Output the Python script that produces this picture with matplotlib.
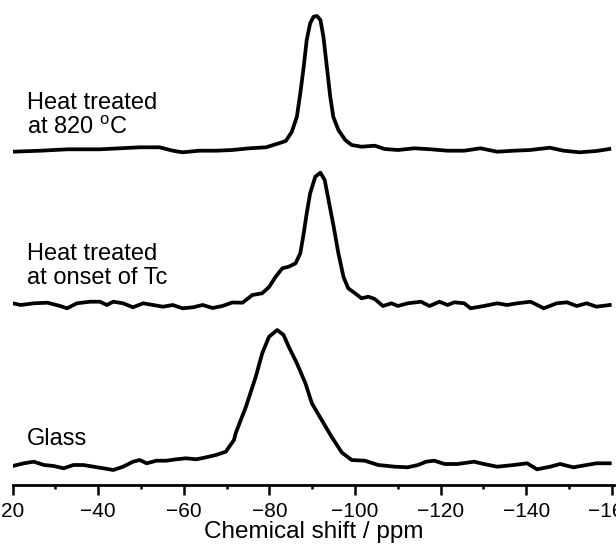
import numpy as np
import matplotlib
matplotlib.use("Agg")
import matplotlib.pyplot as plt

plt.rcParams['font.family'] = ['Liberation Sans', 'DejaVu Sans']
plt.rcParams['mathtext.fontset'] = 'custom'
plt.rcParams['mathtext.rm'] = 'Liberation Sans'

# spectra: chemical shift (ppm) and intensity (a.u., baseline ~0)
ppm_820 = [-20.0, -26.5, -32.8, -40.4, -45.1, -49.7, -54.3, -57.4, -59.7, -63.6,
           -67.6, -71.3, -75.3, -79.2, -82.2, -83.8, -85.2, -86.4, -87.2, -88.0,
           -88.7, -89.5, -90.3, -91.1, -91.9, -92.6, -93.4, -94.2, -94.9, -96.1,
           -97.7, -99.2, -101.5, -104.6, -106.9, -110.0, -113.9, -117.7, -121.6, -125.5,
           -129.3, -133.2, -137.1, -140.9, -145.5, -148.7, -152.5, -156.4, -159.4]
int_820 = [-1.7, -0.7, 0.7, 0.7, 1.7, 2.7, 2.7, -0.7, -2.3, -0.7,
           -0.7, 0.0, 1.7, 2.7, 6.7, 9.0, 18.0, 33.3, 56.7, 83.3,
           110.0, 126.7, 133.3, 134.0, 130.0, 113.3, 83.3, 53.3, 33.3, 20.0,
           10.0, 5.0, 3.3, 4.3, 1.0, 0.0, 1.7, 0.7, -0.7, -0.7,
           1.7, -1.7, -0.7, 0.0, 2.3, -0.7, -2.3, -1.0, 1.0]

ppm_tc = [-20.0, -21.9, -24.9, -28.1, -31.1, -32.7, -35.0, -38.1, -40.4, -42.0,
          -43.5, -45.8, -48.1, -50.5, -52.8, -55.1, -57.4, -59.7, -62.1, -64.4,
          -66.7, -69.0, -71.3, -73.7, -76.0, -78.3, -79.9, -81.4, -83.0, -84.5,
          -86.1, -87.2, -88.0, -88.7, -89.5, -90.7, -91.9, -92.9, -93.8, -95.0,
          -96.1, -97.3, -98.4, -100.0, -101.5, -103.1, -104.6, -106.5, -108.5, -110.0,
          -112.3, -115.4, -117.4, -119.7, -121.6, -123.2, -125.5, -127.0, -130.1, -133.2,
          -135.5, -137.9, -141.0, -144.1, -147.1, -149.5, -151.8, -154.1, -156.4, -159.5]
int_tc = [0.7, -1.0, 0.7, 1.3, -2.0, -4.3, 0.7, 2.3, 2.3, -1.0,
          2.3, 0.7, -3.3, 0.7, -1.0, -2.7, -1.0, -4.3, -3.3, -1.0,
          -4.0, -2.0, 1.5, 1.3, 9.0, 10.7, 17.0, 27.0, 35.7, 37.3,
          40.7, 50.7, 70.7, 90.7, 110.7, 127.3, 131.3, 124.0, 104.0, 77.3,
          50.7, 27.0, 15.7, 10.7, 5.7, 7.3, 5.0, -2.0, 0.7, -2.0,
          0.7, 2.3, -2.0, 2.3, -1.0, 1.7, 0.7, -4.3, -2.0, 0.7,
          -1.0, 0.7, 2.3, -4.3, 0.7, 1.7, -2.0, 0.7, -2.7, -1.0]

ppm_glass = [-20.0, -22.6, -24.9, -27.3, -29.6, -31.9, -34.2, -36.5, -38.9, -41.2,
             -43.5, -45.8, -48.1, -49.7, -51.3, -53.6, -55.9, -58.2, -60.5, -62.9,
             -65.2, -67.5, -69.8, -70.6, -71.7, -72.1, -74.5, -76.8, -78.3, -79.9,
             -81.8, -83.3, -84.5, -86.4, -88.4, -89.9, -92.2, -94.5, -96.9, -99.2,
             -102.3, -105.4, -109.3, -112.3, -114.7, -116.6, -118.5, -120.9, -123.9, -127.8,
             -130.1, -133.2, -137.1, -140.2, -142.5, -145.6, -147.9, -151.0, -154.1, -156.4,
             -159.5]
int_glass = [-1.0, 1.7, 3.3, 0.0, -1.0, -3.3, 0.0, 0.0, -1.7, -3.3,
             -5.0, -1.7, 3.3, 5.0, 1.7, 4.3, 4.3, 5.7, 6.7, 5.7,
             7.7, 10.0, 13.3, 18.3, 25.0, 31.7, 58.3, 88.3, 111.7, 128.3,
             135.0, 130.0, 118.3, 101.7, 81.7, 61.7, 45.0, 28.3, 12.5, 5.0,
             4.3, 0.0, -1.7, -2.3, 0.0, 3.3, 4.3, 1.0, 1.0, 3.3,
             1.0, -1.7, 0.0, 1.7, -4.3, -1.7, 1.0, -2.3, 0.0, 1.7,
             1.7]

labels = ["Heat treated\nat 820 $^{\\rm o}$C", "Heat treated\nat onset of Tc", "Glass"]
offsets = [335, 181, 20]

fig = plt.figure(figsize=(6.16, 5.49), dpi=100)
ax = fig.add_axes([12.7 / 616, 1 - 485 / 549, (614 - 12.7) / 616, 485 / 549])

series = [(ppm_820, int_820), (ppm_tc, int_tc), (ppm_glass, int_glass)]
for (x, y), off in zip(series, offsets):
    ax.plot(x, np.array(y) + off, color='black', lw=2.7, solid_joinstyle='round')

# sample labels, placed just above each baseline
ax.text(-23.4, 346, labels[0], fontsize=17, va='bottom', linespacing=1.1)
ax.text(-23.4, 196, labels[1], fontsize=17, va='bottom', linespacing=1.1)
ax.text(-23.4, 35, labels[2], fontsize=17, va='bottom')

ax.set_xlim(-20, -160.5)
ax.set_ylim(0, 485)
ax.set_xticks(np.arange(-20, -161, -20))
ax.set_xticks(np.arange(-30, -161, -20), minor=True)
ax.set_xticklabels(['20' if v == -20 else '\u2212%d' % abs(v) for v in range(-20, -161, -20)])
ax.set_yticks([])
for side in ['top', 'left', 'right']:
    ax.spines[side].set_visible(False)
ax.spines['bottom'].set_linewidth(2.0)
ax.tick_params(axis='x', which='major', direction='out', length=7.5, width=1.8,
               labelsize=15, pad=5)
ax.tick_params(axis='x', which='minor', direction='out', length=3, width=1.8)
ax.set_xlabel('Chemical shift / ppm', fontsize=17.5, labelpad=0)
ax.patch.set_alpha(0)

fig.savefig('out.png', dpi=100)
